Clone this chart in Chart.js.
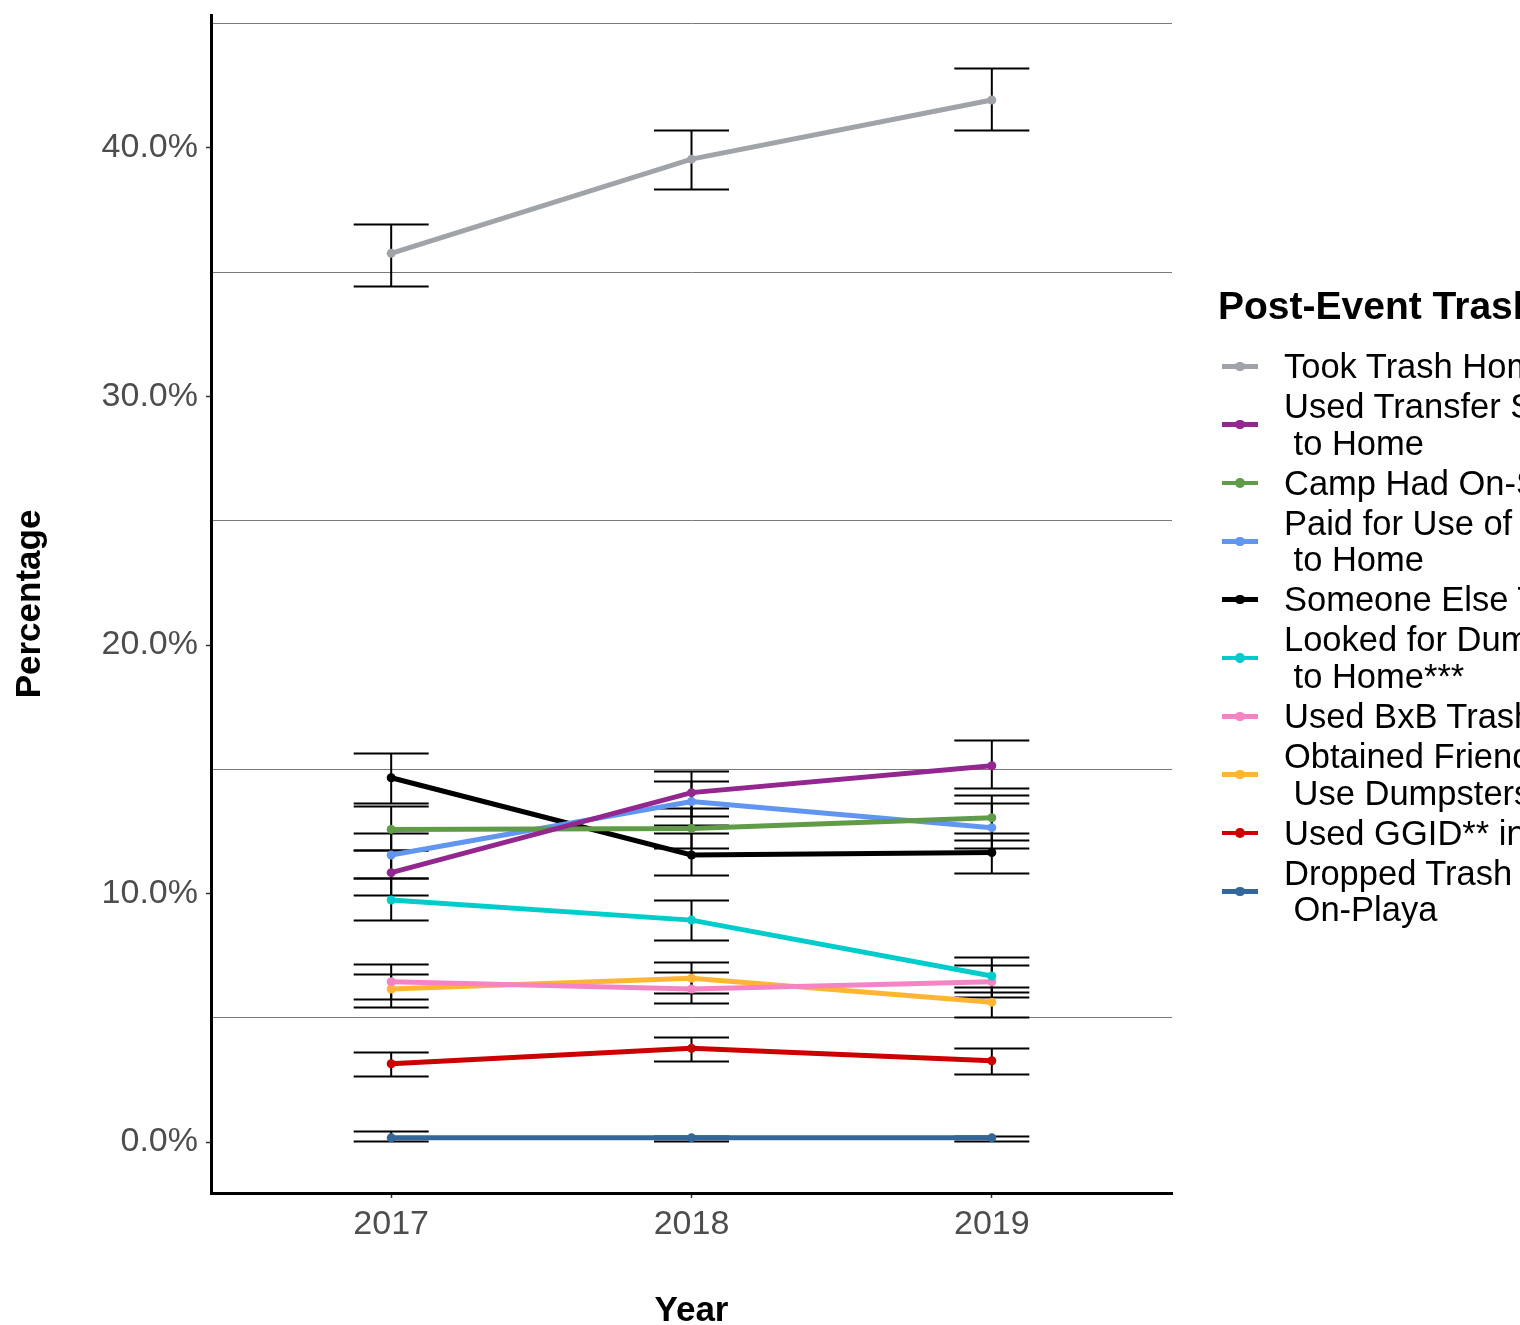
<!DOCTYPE html>
<html>
<head>
<meta charset="utf-8">
<script src="https://cdn.jsdelivr.net/npm/chart.js@4"></script>
<style>
  body { margin: 0; background: #fff; }
  #wrap { position: relative; width: 1520px; height: 1325px; overflow: hidden; font-family: "Liberation Sans", Arial, sans-serif; }
  #legend { position: absolute; left: 1218px; top: 286px; white-space: nowrap; }
  .ltitle { font-weight: bold; font-size: 39px; line-height: 40px; color: #000; margin-bottom: 22px; }
  .item { display: flex; align-items: center; margin-bottom: 3.6px; }
  .key { position: relative; width: 36px; height: 4.5px; margin-left: 4px; }
  .key .dot { position: absolute; left: 13px; top: -2.5px; width: 9.5px; height: 9.5px; border-radius: 50%; }
  .lab { margin-left: 26px; font-size: 34.5px; line-height: 36.5px; white-space: pre; color: #000; }
</style>
</head>
<body>
<div id="wrap">
  <canvas id="chart" width="1520" height="1325"></canvas>
  <div id="legend"></div>
</div>
<script>
// ---- data ----
const years = [2017, 2018, 2019];

const seriesLabels = [
  "Took Trash Home",
  "Used Transfer Station on Way\n to Home",
  "Camp Had On-Site Dumpster",
  "Paid for Use of Dumpster on Way\n to Home",
  "Someone Else Took Trash",
  "Looked for Dumpster on Way\n to Home***",
  "Used BxB Trash Service",
  "Obtained Friend's Permission to\n Use Dumpsters",
  "Used GGID** in Gerlach",
  "Dropped Trash Somewhere\n On-Playa"
];
const seriesColors = ["#A0A3A8", "#93278F", "#609C48", "#6196F0", "#000000",
                      "#00CCCC", "#F484C4", "#FFB534", "#CC0000", "#336699"];

const tookHome       = [35.76, 39.55, 41.93];
const transferSt     = [10.84, 14.06, 15.14];
const campOnSite     = [12.58, 12.62, 13.05];
const paidDumpster   = [11.55, 13.70, 12.65];
const someoneElse    = [14.66, 11.55, 11.65];
const lookedDumpster = [9.74, 8.93, 6.68];
const bxbTrash       = [6.45, 6.16, 6.45];
const friendDumpster = [6.16, 6.59, 5.63];
const ggid           = [3.15, 3.77, 3.27];
const droppedTrash   = [0.17, 0.17, 0.17];

// error bar ends (percent)
const tookHomeLow        = [34.46, 38.36, 40.72];
const tookHomeHigh       = [36.94, 40.72, 43.23];
const transferStLow      = [9.94, 13.12, 14.26];
const transferStHigh     = [11.75, 14.93, 16.18];
const campOnSiteLow      = [11.75, 11.84, 12.15];
const campOnSiteHigh     = [13.53, 13.45, 13.96];
const paidDumpsterLow    = [10.64, 12.76, 11.84];
const paidDumpsterHigh   = [12.45, 14.54, 13.65];
const someoneElseLow     = [13.65, 10.74, 10.84];
const someoneElseHigh    = [15.67, 12.45, 12.45];
const lookedDumpsterLow  = [8.93, 8.13, 5.85];
const lookedDumpsterHigh = [10.64, 9.74, 7.46];
const bxbTrashLow        = [5.77, 5.58, 6.05];
const bxbTrashHigh       = [7.15, 6.85, 7.12];
const friendDumpsterLow  = [5.44, 5.98, 5.04];
const friendDumpsterHigh = [6.75, 7.26, 6.25];
const ggidLow            = [2.67, 3.27, 2.74];
const ggidHigh           = [3.63, 4.24, 3.77];
const droppedTrashLow    = [0.05, 0.05, 0.05];
const droppedTrashHigh   = [0.45, 0.25, 0.25];

const yTicks = [0, 5, 10, 15, 20, 25, 30, 35, 40, 45];

const allValues = [tookHome, transferSt, campOnSite, paidDumpster, someoneElse,
                   lookedDumpster, bxbTrash, friendDumpster, ggid, droppedTrash];
const allLow = [tookHomeLow, transferStLow, campOnSiteLow, paidDumpsterLow, someoneElseLow,
                lookedDumpsterLow, bxbTrashLow, friendDumpsterLow, ggidLow, droppedTrashLow];
const allHigh = [tookHomeHigh, transferStHigh, campOnSiteHigh, paidDumpsterHigh, someoneElseHigh,
                 lookedDumpsterHigh, bxbTrashHigh, friendDumpsterHigh, ggidHigh, droppedTrashHigh];

const FONT = "'Liberation Sans', Arial, sans-serif";

const datasets = allValues.map((vals, i) => ({
  label: seriesLabels[i],
  data: vals.map((v, j) => ({ x: years[j], y: v })),
  low: allLow[i],
  high: allHigh[i],
  borderColor: seriesColors[i],
  backgroundColor: seriesColors[i],
  borderWidth: 5,
  pointRadius: 4.5,
  pointBorderWidth: 0,
  tension: 0
}));

// error bars go under the lines
const errorBars = {
  id: "errorBars",
  beforeDatasetsDraw(chart) {
    const ctx = chart.ctx;
    const ys = chart.scales.y;
    ctx.save();
    ctx.strokeStyle = "#000";
    ctx.lineWidth = 2;
    chart.data.datasets.forEach((ds, i) => {
      const meta = chart.getDatasetMeta(i);
      meta.data.forEach((pt, j) => {
        const top = Math.round(ys.getPixelForValue(ds.high[j])) + 0.5;
        const bot = Math.round(ys.getPixelForValue(ds.low[j])) + 0.5;
        ctx.beginPath();
        ctx.moveTo(pt.x, top); ctx.lineTo(pt.x, bot);
        ctx.moveTo(pt.x - 37.5, top); ctx.lineTo(pt.x + 37.5, top);
        ctx.moveTo(pt.x - 37.5, bot); ctx.lineTo(pt.x + 37.5, bot);
        ctx.stroke();
      });
    });
    ctx.restore();
  }
};

function noPad(s) {
  s.paddingTop = 0; s.paddingBottom = 0; s.paddingLeft = 0; s.paddingRight = 0;
}

new Chart(document.getElementById("chart"), {
  type: "line",
  data: { datasets },
  plugins: [errorBars],
  options: {
    responsive: false,
    animation: false,
    layout: { padding: { top: 15, right: 348, left: 0, bottom: 0 } },
    plugins: { legend: { display: false }, tooltip: { enabled: false } },
    scales: {
      x: {
        type: "linear",
        min: 2016.4,
        max: 2019.6,
        afterBuildTicks: s => { s.ticks = years.map(v => ({ value: v })); },
        afterFit: s => { s.height = 132; noPad(s); },
        border: { color: "#000", width: 3 },
        grid: { drawOnChartArea: false, tickLength: 5, tickColor: "#333", tickWidth: 1.5 },
        ticks: { font: { family: FONT, size: 34 }, color: "#4D4D4D", padding: 6, callback: v => String(v) },
        title: { display: true, text: "Year", font: { family: FONT, size: 35, weight: "bold", lineHeight: 0.8 }, color: "#000", padding: { top: 0, bottom: 0 } }
      },
      y: {
        min: -2.05,
        max: 45.35,
        afterBuildTicks: s => { s.ticks = yTicks.map(v => ({ value: v })); },
        afterFit: s => { s.width = 211; noPad(s); },
        border: { color: "#000", width: 3 },
        grid: {
          color: c => (c.tick && c.tick.value % 10 !== 0) ? "#7a7a7a" : "rgba(0,0,0,0)",
          lineWidth: 1,
          tickLength: 5,
          tickWidth: 1.5,
          tickColor: c => (c.tick && c.tick.value % 10 === 0) ? "#333" : "rgba(0,0,0,0)"
        },
        ticks: {
          font: { family: FONT, size: 34 }, color: "#4D4D4D", padding: 8,
          callback: v => (v % 10 === 0) ? v.toFixed(1) + "%" : ""
        },
        title: { display: true, text: "Percentage", font: { family: FONT, size: 35, weight: "bold", lineHeight: 1 }, color: "#000", padding: { top: 13, bottom: 13 } }
      }
    }
  }
});

// legend in HTML (multi-line labels)
const legend = document.getElementById("legend");
legend.innerHTML = '<div class="ltitle">Post-Event Trash Disposal Method</div>';
seriesLabels.forEach((lab, i) => {
  const item = document.createElement("div");
  item.className = "item";
  item.innerHTML = `<div class="key" style="background:${seriesColors[i]}"><div class="dot" style="background:${seriesColors[i]}"></div></div><div class="lab"></div>`;
  item.querySelector(".lab").textContent = lab;
  legend.appendChild(item);
});
</script>
</body>
</html>
